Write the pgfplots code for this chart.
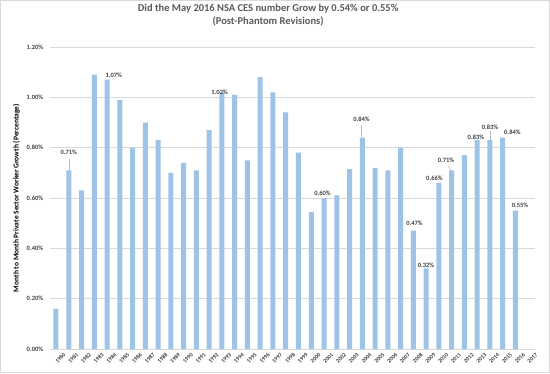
\documentclass[border=0pt]{standalone}
\usepackage{pgfplots}
\pgfplotsset{compat=1.18}
\usepackage{fontspec}
\setmainfont{Carlito}
\definecolor{barblue}{HTML}{9DC3E6}
\definecolor{txtgray}{HTML}{595959}
\definecolor{lblgray}{HTML}{404040}
\definecolor{gridgray}{HTML}{D9D9D9}
\begin{document}
\begin{tikzpicture}
\useasboundingbox (-56pt,-24pt) rectangle (494pt,349pt);
\draw[gridgray,line width=0.6pt] (-55.7pt,-23.7pt) rectangle (493.7pt,348.7pt);
\begin{axis}[
  at={(0pt,0pt)}, anchor=origin,
  scale only axis,
  width=485pt, height=302pt,
  xmin=-0.5, xmax=37.5,
  ymin=0, ymax=1.2,
  ytick={0,0.2,...,1.2},
  yticklabel={\pgfmathprintnumber[fixed,fixed zerofill,precision=2]{\tick}\%},
  /pgf/number format/assume math mode=true,
  y tick label style={font=\fontsize{6.5}{7}\selectfont\bfseries, text=lblgray, xshift=-3pt},
  ymajorgrids,
  grid style={gridgray, line width=0.6pt},
  axis x line*=bottom,
  axis y line*=left,
  y axis line style={draw=none},
  x axis line style={gridgray, line width=0.8pt, -},
  major tick length=0pt,
  xtick={0,...,37},
  xticklabels={1980,1981,1982,1983,1984,1985,1986,1987,1988,1989,1990,1991,1992,1993,1994,1995,1996,1997,1998,1999,2000,2001,2002,2003,2004,2005,2006,2007,2008,2009,2010,2011,2012,2013,2014,2015,2016,2017},
  x tick label style={font=\fontsize{5.8}{6}\selectfont\bfseries, text=lblgray, rotate=45, anchor=north east, inner sep=0.3pt, xshift=3pt, yshift=-7pt},
  ylabel={Month to Month Private Sector Worker Growth (Percentage)},
  ylabel style={font=\fontsize{7.5}{8}\selectfont\bfseries, text=black},
  title={Did the May 2016 NSA CES number Grow by 0.54\% or 0.55\%\\(Post-Phantom Revisions)},
  title style={font=\fontsize{10.5}{13.5}\selectfont\bfseries, text=txtgray, align=center, at={(218.5pt,328pt)}, anchor=center},
  clip=false,
]
\addplot[ybar, bar width=5pt, fill=barblue, draw=none] coordinates {
(0,0.16) (1,0.71) (2,0.63) (3,1.09) (4,1.07) (5,0.99) (6,0.80) (7,0.90) (8,0.83) (9,0.70)
(10,0.74) (11,0.71) (12,0.87) (13,1.02) (14,1.01) (15,0.75) (16,1.08) (17,1.02) (18,0.94) (19,0.78)
(20,0.545) (21,0.60) (22,0.61) (23,0.715) (24,0.84) (25,0.72) (26,0.71) (27,0.80) (28,0.47) (29,0.32)
(30,0.66) (31,0.71) (32,0.77) (33,0.83) (34,0.83) (35,0.84) (36,0.55)
};
\tikzset{lbl/.style={font=\fontsize{6.5}{7}\selectfont\bfseries, text=lblgray, anchor=center}}
\node[lbl] at (axis cs:1.0,0.781) {0.71\%};
\draw[gridgray!70!gray, line width=0.5pt] (axis cs:1.07,0.755) -- (axis cs:1.07,0.712);
\node[lbl] at (axis cs:4.52,1.086) {1.07\%};
\node[lbl] at (axis cs:12.82,1.022) {1.02\%};
\node[lbl] at (axis cs:20.88,0.617) {0.60\%};
\node[lbl] at (axis cs:23.94,0.914) {0.84\%};
\draw[gridgray!70!gray, line width=0.5pt] (axis cs:23.94,0.89) -- (axis cs:23.94,0.842);
\node[lbl] at (axis cs:28.09,0.499) {0.47\%};
\node[lbl] at (axis cs:28.99,0.331) {0.32\%};
\node[lbl] at (axis cs:29.65,0.678) {0.66\%};
\node[lbl] at (axis cs:30.56,0.751) {0.71\%};
\draw[gridgray!70!gray, line width=0.5pt] (axis cs:30.69,0.728) -- (axis cs:30.98,0.711);
\node[lbl] at (axis cs:32.9,0.843) {0.83\%};
\node[lbl] at (axis cs:34.0,0.881) {0.83\%};
\draw[gridgray!70!gray, line width=0.5pt] (axis cs:34.0,0.868) -- (axis cs:34.0,0.832);
\node[lbl] at (axis cs:35.76,0.861) {0.84\%};
\node[lbl] at (axis cs:36.35,0.572) {0.55\%};
\end{axis}
\end{tikzpicture}
\end{document}
